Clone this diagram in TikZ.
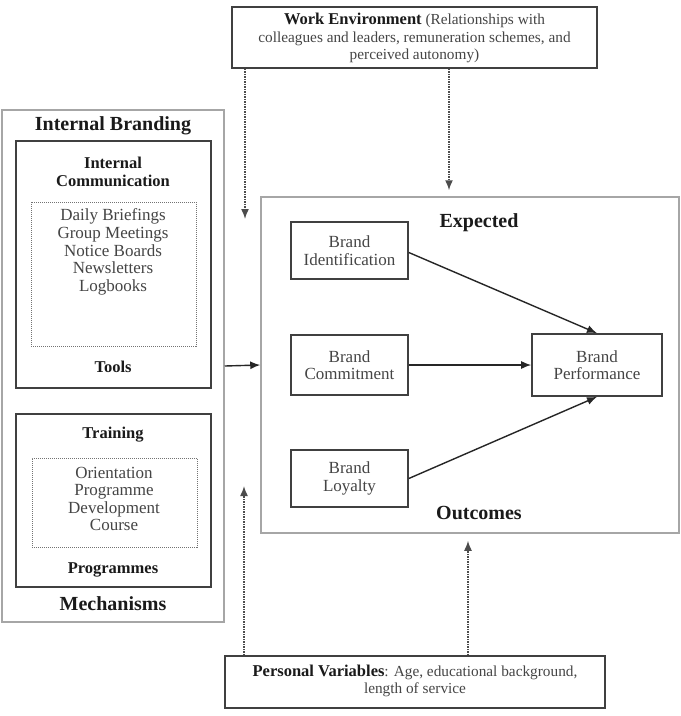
\documentclass[tikz,border=0pt]{standalone}
\usepackage{fontspec}
\setmainfont{Liberation Serif}
\usetikzlibrary{arrows.meta}
\definecolor{txt}{HTML}{454545}
\definecolor{hd}{HTML}{1A1A1A}
\begin{document}
\begin{tikzpicture}[x=1pt,y=-1pt,
  box/.style={draw=black!75,line width=1.6pt,inner sep=0pt},
  outerbox/.style={draw=black!35,line width=1.5pt,inner sep=0pt},
  innerbox/.style={draw=black!55,line width=1pt,densely dotted,inner sep=0pt},
  hbig/.style={font=\fontsize{20}{22}\selectfont\bfseries,text=hd,inner sep=0pt},
  hsub/.style={font=\fontsize{16.5}{18}\selectfont\bfseries,text=hd,inner sep=0pt,align=center},
  body/.style={font=\fontsize{17}{17.6}\selectfont,text=txt,inner sep=0pt,align=center},
  small/.style={font=\fontsize{15.3}{17.5}\selectfont,text=txt,inner sep=0pt,align=center},
  arr/.style={-{Latex[length=10pt,width=8pt]},line width=1.4pt,black!85},
  darr/.style={-{Latex[length=10pt,width=8pt]},line width=1.5pt,black!70,densely dotted},
]
\useasboundingbox (0,0) rectangle (681,716);
\fill[white] (0,0) rectangle (681,716);

% Work environment
\node[box,minimum width=365pt,minimum height=61pt] (we) at (414.5,37.5) {};
\node[small] (wet) at (414.5,38) {{\fontsize{16.5}{17.5}\selectfont\bfseries\color{hd}Work Environment} (Relationships with\\colleagues and leaders, remuneration schemes, and\\perceived autonomy)};

% Internal branding outer
\node[outerbox,minimum width=222pt,minimum height=512pt] (ib) at (113,366) {};
\node[hbig] (ibt) at (113,126) {Internal Branding};

% Internal communication
\node[box,minimum width=195pt,minimum height=247pt] (ic) at (113.5,264.5) {};
\node[hsub] (ict) at (113,172) {Internal\\Communication};
\node[innerbox,minimum width=165pt,minimum height=144pt] (ici) at (113.5,274) {};
\node[body] (icl) at (113,252) {Daily Briefings\\Group Meetings\\Notice Boards\\Newsletters\\Logbooks};
\node[hsub] (tools) at (113,367) {Tools};

% Training
\node[box,minimum width=195pt,minimum height=173pt] (tr) at (113.5,500.5) {};
\node[hsub] (trt) at (113,435) {Training};
\node[innerbox,minimum width=165pt,minimum height=89pt] (tri) at (114.5,502.5) {};
\node[body] (trl) at (114,499) {Orientation\\Programme\\Development\\Course};
\node[hsub] (prog) at (113,570) {Programmes};
\node[hbig] (mech) at (113,604) {Mechanisms};

% Outcomes
\node[outerbox,minimum width=418pt,minimum height=336pt] (out) at (470,365) {};
\node[hbig] (exp) at (479,223) {Expected};
\node[hbig] (outt) at (479,513) {Outcomes};

\node[box,minimum width=117pt,minimum height=57pt,body] (bi) at (349.5,250.5) {Brand\\Identification};
\node[box,minimum width=117pt,minimum height=60pt,body] (bc) at (349.5,365) {Brand\\Commitment};
\node[box,minimum width=117pt,minimum height=57pt,body] (bl) at (349.5,478.5) {Brand\\Loyalty};
\node[box,minimum width=130pt,minimum height=62pt,body] (bp) at (597,365) {Brand\\Performance};

% Personal variables
\node[box,minimum width=380pt,minimum height=52pt] (pv) at (415,682) {};
\node[small] (pvt) at (415,681) {{\fontsize{16.5}{17.5}\selectfont\bfseries\color{hd}Personal Variables}: Age, educational background,\\length of service};

% Arrows
\draw[arr] (bi.east) ++(0,2) -- (bp.north);
\draw[arr] (bc.east) -- (bp.west);
\draw[arr] (bl.east) -- (bp.south);
\draw[arr] (ib.east) -- (out.west);

\coordinate (d1) at (245,219);
\coordinate (d2) at (244,486);
\draw[darr] (we.south -| d1) -- (d1);
\draw[darr,shorten >=6pt] (we.south -| 449,0) -- (out.north -| 449,0);
\draw[darr] (pv.north -| d2) -- (d2);
\draw[darr,shorten >=7pt] (pv.north -| 468,0) -- (out.south -| 468,0);
\end{tikzpicture}
\end{document}
